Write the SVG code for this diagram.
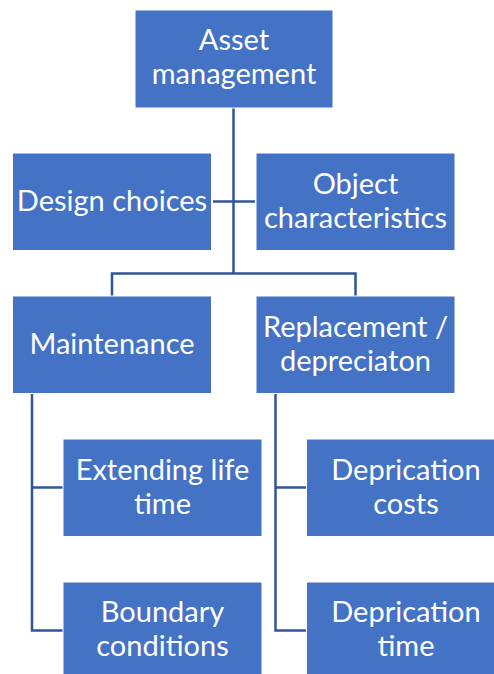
<svg xmlns="http://www.w3.org/2000/svg" width="494" height="674" viewBox="0 0 494 674">
  <style>
    .box { fill: #4472C4; stroke: #ffffff; stroke-width: 1; }
    .lbl { fill: #ffffff; font-family: Lato, "Liberation Sans", sans-serif; font-size: 29px; text-anchor: middle; }
    .wire { fill: none; stroke: #2F5597; stroke-width: 2.5; }
  </style>
  <rect width="494" height="674" fill="#ffffff"/>

  <g id="connectors">
    <path class="wire" d="M233.5 108 V273.5 M112 296 V273.5 H355.5 V296"/>
    <path class="wire" d="M213 201.5 H255"/>
    <path class="wire" d="M32 394 V630.5 H63 M32 487.5 H63"/>
    <path class="wire" d="M275.5 394 V630.5 H306 M275.5 487.5 H306"/>
  </g>

  <g id="asset-management">
    <rect class="box" x="135" y="10" width="198" height="98"/>
    <text class="lbl" x="234" y="50">Asset</text>
    <text class="lbl" x="234" y="84">management</text>
  </g>
  <g id="design-choices">
    <rect class="box" x="12.5" y="153" width="199" height="97.5"/>
    <text class="lbl" x="112" y="211">Design choices</text>
  </g>
  <g id="object-characteristics">
    <rect class="box" x="256" y="153" width="199" height="97.5"/>
    <text class="lbl" x="355.5" y="194">Object</text>
    <text class="lbl" x="355.5" y="228">characteristics</text>
  </g>
  <g id="maintenance">
    <rect class="box" x="12.5" y="296" width="199" height="97.5"/>
    <text class="lbl" x="112" y="354">Maintenance</text>
  </g>
  <g id="replacement">
    <rect class="box" x="256" y="296" width="199" height="97.5"/>
    <text class="lbl" x="355.5" y="337">Replacement /</text>
    <text class="lbl" x="355.5" y="371">depreciaton</text>
  </g>
  <g id="extending-life-time">
    <rect class="box" x="63" y="439" width="199" height="97.5"/>
    <text class="lbl" x="162.5" y="480">Extending life</text>
    <text class="lbl" x="162.5" y="514">time</text>
  </g>
  <g id="deprication-costs">
    <rect class="box" x="306.5" y="439" width="199" height="97.5"/>
    <text class="lbl" x="406" y="480">Deprication</text>
    <text class="lbl" x="406" y="514">costs</text>
  </g>
  <g id="boundary-conditions">
    <rect class="box" x="63" y="582" width="199" height="97.5"/>
    <text class="lbl" x="162.5" y="622">Boundary</text>
    <text class="lbl" x="162.5" y="656">conditions</text>
  </g>
  <g id="deprication-time">
    <rect class="box" x="306.5" y="582" width="199" height="97.5"/>
    <text class="lbl" x="406" y="622">Deprication</text>
    <text class="lbl" x="406" y="656">time</text>
  </g>
</svg>
